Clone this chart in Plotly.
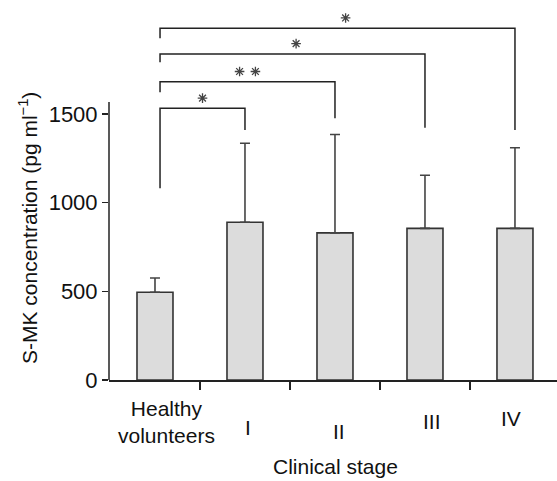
import plotly.graph_objects as go

# ---- data ----
categories = ["Healthy<br>volunteers", "I", "II", "III", "IV"]
means = [495, 890, 830, 855, 855]
sd_upper = [80, 445, 555, 300, 455]

y_tickvals = [0, 500, 1000, 1500]

# significance brackets: from group 0 to target group
bracket_targets = [1, 2, 3, 4]
bracket_levels = [1532, 1682, 1839, 1984]
bracket_left_end = [1081, 1623, 1792, 1927]
bracket_right_end = [1410, 1476, 1423, 1410]
bracket_labels = ["*", "* *", "*", "*"]
star_offsets = [0.0, 0.0, 0.04, 0.09]

# ---- layout constants (style) ----
W, H = 557, 481
ML, MR, MT, MB = 109, 0, 5, 101
Y_MAX = 2115
X_RANGE = [-0.511, 4.467]
Y_AXIS_TOP = 1568
FONT = "Liberation Sans, Arial, sans-serif"
INK = "#222222"
TXT = "#111111"

x_idx = list(range(len(categories)))

fig = go.Figure()
fig.add_trace(go.Bar(
    x=x_idx, y=means, width=0.4,
    marker=dict(color="#dcdcdc", line=dict(color="#333333", width=1.6)),
    error_y=dict(type="data", array=sd_upper, arrayminus=[0] * len(means),
                 symmetric=False, color="#444444", thickness=1.6, width=5),
    showlegend=False, hoverinfo="skip",
))

shapes = []
# y axis line (does not span full plot height)
shapes.append(dict(type="line", xref="paper", yref="y", x0=0, x1=0, y0=0, y1=Y_AXIS_TOP,
                   line=dict(color=INK, width=1.5)))

left_x = 0.056
star_x, star_y = [], []
for t, lvl, le, re, lab, off in zip(bracket_targets, bracket_levels, bracket_left_end,
                                    bracket_right_end, bracket_labels, star_offsets):
    shapes.append(dict(type="path", xref="x", yref="y",
                       path=f"M {left_x},{le} L {left_x},{lvl} L {t},{lvl} L {t},{re}",
                       line=dict(color=INK, width=1.5)))
    mid = (left_x + t) / 2 + off
    n = lab.count("*")
    if n == 1:
        star_x.append(mid); star_y.append(lvl + 58)
    else:
        star_x += [mid - 0.088, mid + 0.088]; star_y += [lvl + 58, lvl + 58]

fig.add_trace(go.Scatter(
    x=star_x, y=star_y, mode="markers",
    marker=dict(symbol="asterisk-open", size=8, color="#444444",
                line=dict(color="#444444", width=1.3)),
    showlegend=False, hoverinfo="skip", cliponaxis=False,
))

annotations = []
label_xshift = [11.5, 3, 4, 7, -3.5]
label_yshift = [-42, -47.5, -51, -41, -38]
for i, (lab, xs, ys) in enumerate(zip(categories, label_xshift, label_yshift)):
    annotations.append(dict(x=i, y=0, xref="x", yref="paper", text=lab, showarrow=False,
                            xanchor="center", yanchor="middle", xshift=xs, yshift=ys,
                            font=dict(family=FONT, size=21, color=TXT)))

plot_w = W - ML - MR
plot_h = H - MT - MB
annotations.append(dict(x=(335.8 - ML) / plot_w, y=-(466 - (H - MB)) / plot_h,
                        xref="paper", yref="paper", text="Clinical stage", showarrow=False,
                        xanchor="center", yanchor="middle",
                        font=dict(family=FONT, size=21, color=TXT)))
annotations.append(dict(x=(28 - ML) / plot_w, y=((H - MB) - 228) / plot_h,
                        xref="paper", yref="paper",
                        text="S-MK concentration (pg ml<sup>−1</sup>)", showarrow=False,
                        textangle=-90, xanchor="center", yanchor="middle",
                        font=dict(family=FONT, size=21, color=TXT)))

fig.update_layout(
    width=W, height=H,
    margin=dict(l=ML, r=MR, t=MT, b=MB, pad=0),
    plot_bgcolor="white", paper_bgcolor="white",
    shapes=shapes, annotations=annotations,
    xaxis=dict(range=X_RANGE, showline=True, linecolor=INK, linewidth=1.5,
               tickvals=[0.5, 1.5, 2.5, 3.5], ticks="outside", ticklen=8, tickwidth=1.5,
               tickcolor=INK, showticklabels=False, showgrid=False, zeroline=False,
               fixedrange=True),
    yaxis=dict(range=[0, Y_MAX], showline=False, tickvals=y_tickvals, ticks="outside",
               ticklen=6, tickwidth=1.5, tickcolor=INK, showgrid=False, zeroline=False,
               tickfont=dict(family=FONT, size=22, color=TXT), fixedrange=True),
    bargap=0.6,
)

fig.write_html("out.html", config={"displayModeBar": False, "staticPlot": True},
               post_script="document.body.style.margin='0';document.body.style.overflow='hidden';")
